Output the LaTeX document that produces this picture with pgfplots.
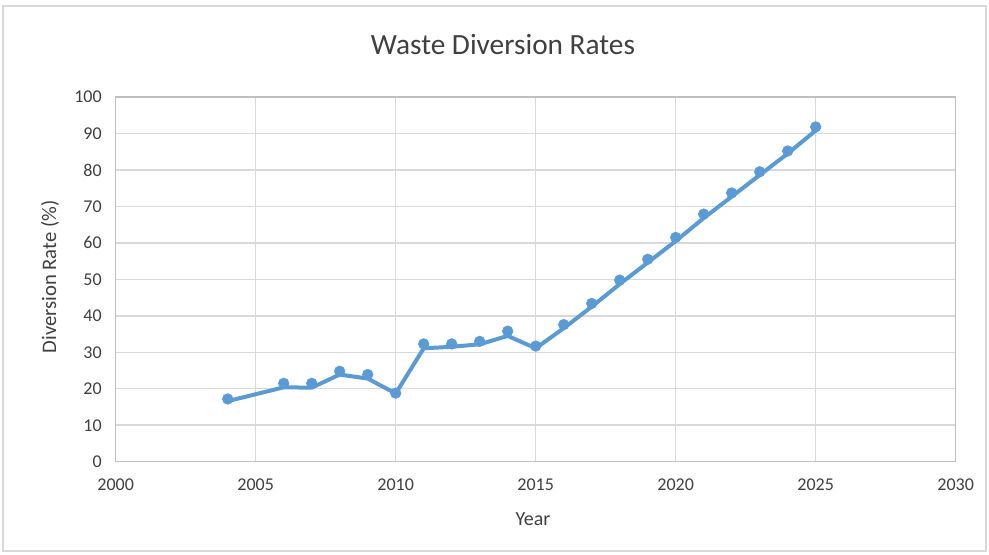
\documentclass[border=0pt]{standalone}
\usepackage{pgfplots}
\pgfplotsset{compat=1.18}
\usepackage{fontspec}
\setmainfont{Carlito}
\definecolor{txt}{HTML}{404040}
\definecolor{gridc}{HTML}{D9D9D9}
\definecolor{axc}{HTML}{BFBFBF}
\definecolor{ln}{HTML}{5B9BD5}
\begin{document}
\begin{tikzpicture}[x=0.75pt,y=0.75pt]
\useasboundingbox (0,0) rectangle (989,554);
\fill[white] (0,0) rectangle (989,554);
\draw[gridc, line width=1pt] (3,3) rectangle (986,548);
\node[txt, font=\fontsize{22}{26}\selectfont] at (503,509) {Waste Diversion Rates};
\node[txt, font=\fontsize{15.5}{18}\selectfont, rotate=90] at (50,277) {Diversion Rate (\%)};
\node[txt, font=\fontsize{15}{18}\selectfont] at (533,35) {Year};
\begin{axis}[
  at={(86.775pt,69.225pt)}, anchor=south west,
  scale only axis, width=630pt, height=273.5pt,
  xmin=2000, xmax=2030, ymin=0, ymax=100,
  xtick={2000,2005,...,2030}, ytick={0,10,...,100},
  grid=major, major grid style={gridc, line width=1.1pt},
  axis line style={axc, line width=1.1pt},
  major tick length=0pt,
  tick label style={txt, font=\fontsize{13.5}{16}\selectfont},
  /pgf/number format/assume math mode=true,
  xticklabel style={/pgf/number format/1000 sep={}, yshift=-9pt},
  yticklabel style={xshift=-7pt},
  clip=false,
]
\addplot[ln, line width=3pt, line join=round, no marks] coordinates {
(2004,16.6) (2006,20.4) (2007,20.3) (2008,23.9) (2009,22.8) (2010,18.7)
(2011,31.1) (2012,31.5) (2013,32.2) (2014,34.5) (2015,31.1) (2016,36.6)
(2017,42.5) (2018,48.7) (2019,54.6) (2020,60.5) (2021,66.8) (2022,72.7)
(2023,78.6) (2024,84.5) (2025,90.8)};
\addplot[only marks, mark=*, mark size=4pt, mark options={fill=ln, draw=ln}] coordinates {
(2004,17.2) (2006,21.5) (2007,21.5) (2008,24.8) (2009,23.9) (2010,18.8)
(2011,32.3) (2012,32.3) (2013,33.0) (2014,35.8) (2015,31.7) (2016,37.6)
(2017,43.4) (2018,49.8) (2019,55.5) (2020,61.5) (2021,67.9) (2022,73.7)
(2023,79.5) (2024,85.2) (2025,91.8)};
\end{axis}
\end{tikzpicture}
\end{document}
